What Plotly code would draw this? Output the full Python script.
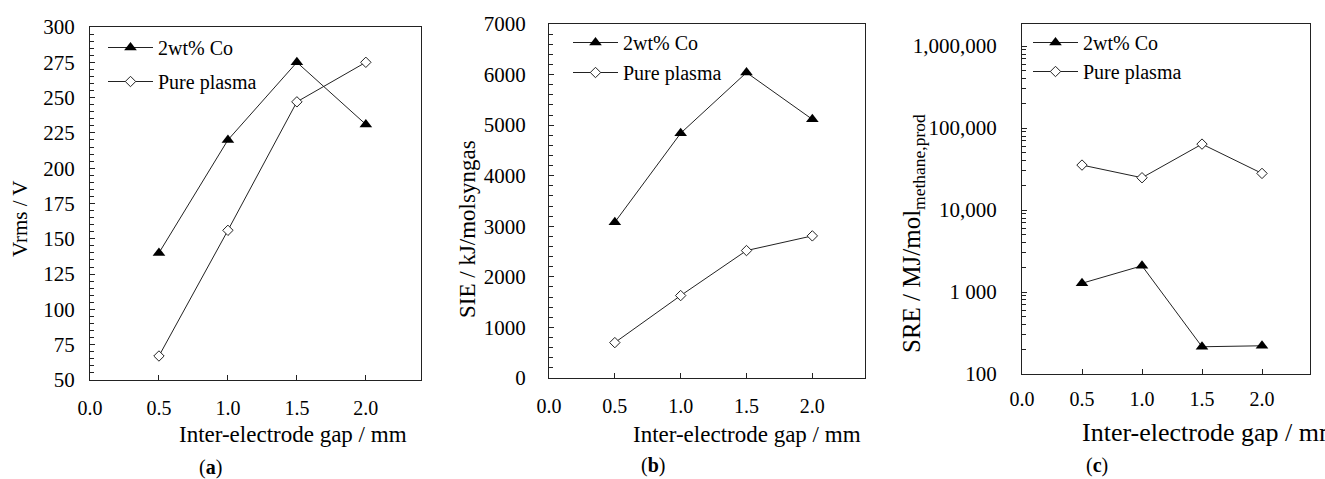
import plotly.graph_objects as go

W, H = 1325, 479

gap = [0.5, 1.0, 1.5, 2.0]
vrms_co = [140, 220, 275, 231]
vrms_pure = [67, 156, 247, 275]
sie_co = [3080, 4840, 6040, 5115]
sie_pure = [700, 1630, 2520, 2810]
sre_co = [1280, 2090, 215, 221]
sre_pure = [35400, 24800, 63800, 28000]

series_names = ["2wt% Co", "Pure plasma"]
x_ticks = [0.0, 0.5, 1.0, 1.5, 2.0]
x_ticktext = ["0.0", "0.5", "1.0", "1.5", "2.0"]
sre_ticks = [100, 1000, 10000, 100000, 1000000]
sre_ticktext = ["100", "1 000", "10,000", "100,000", "1,000,000"]

FONT = "Liberation Serif, Times New Roman, serif"
LC = "#222222"


def px(x):
    return x / W


def py(y):
    return 1 - y / H


fig = go.Figure()

panels = [
    (vrms_co, vrms_pure, "x", "y", "legend"),
    (sie_co, sie_pure, "x2", "y2", "legend2"),
    (sre_co, sre_pure, "x3", "y3", "legend3"),
]
for co, pure, xa, ya, lg in panels:
    fig.add_trace(go.Scatter(
        x=gap, y=co, name=series_names[0], mode="lines+markers",
        line=dict(color=LC, width=1),
        marker=dict(symbol="triangle-up", size=11, color="black"),
        xaxis=xa, yaxis=ya, legend=lg, legendgroup=lg + "a"))
    fig.add_trace(go.Scatter(
        x=gap, y=pure, name=series_names[1], mode="lines+markers",
        line=dict(color=LC, width=1),
        marker=dict(symbol="diamond", size=8, color="white",
                    line=dict(color=LC, width=1)),
        xaxis=xa, yaxis=ya, legend=lg, legendgroup=lg + "b"))

xcommon = dict(range=[0, 2.4], tickvals=x_ticks, ticktext=x_ticktext,
               showline=True, mirror=True, linecolor=LC, linewidth=1,
               ticks="inside", ticklen=5, tickcolor=LC, showgrid=False,
               zeroline=False, automargin=False,
               tickfont=dict(family=FONT, size=20, color="black"))
ycommon = dict(showline=True, mirror=True, linecolor=LC, linewidth=1,
               ticks="inside", ticklen=5, tickcolor=LC, showgrid=False,
               zeroline=False, automargin=False,
               tickfont=dict(family=FONT, size=21, color="black"))

minor_log = [k * 10 ** e for e in range(2, 7) for k in range(2, 10)]

fig.update_layout(
    width=W, height=H,
    margin=dict(l=0, r=0, t=0, b=0, autoexpand=False),
    paper_bgcolor="white", plot_bgcolor="white",
    font=dict(family=FONT, size=20, color="black"),
    xaxis=dict(domain=[px(90), px(421)], anchor="y", ticklabelstandoff=10, **xcommon),
    yaxis=dict(domain=[py(380), py(27)], anchor="x", range=[50, 300], dtick=25,
               ticklabelstandoff=10,
               minor=dict(ticks="inside", ticklen=4, dtick=5, tickcolor=LC),
               **ycommon),
    xaxis2=dict(domain=[px(549), px(865)], anchor="y2", ticklabelstandoff=10, **xcommon),
    yaxis2=dict(domain=[py(378), py(24)], anchor="x2", range=[0, 7000], dtick=1000,
                ticklabelstandoff=18,
                minor=dict(ticks="inside", ticklen=4, dtick=200, tickcolor=LC),
                **ycommon),
    xaxis3=dict(domain=[px(1022), px(1310)], anchor="y3", ticklabelstandoff=7, **xcommon),
    yaxis3=dict(domain=[py(374), py(24)], anchor="x3", type="log", range=[2, 6.27],
                tickvals=sre_ticks, ticktext=sre_ticktext,
                ticklabelstandoff=20,
                minor=dict(ticks="inside", ticklen=4, tickvals=minor_log, tickcolor=LC),
                **ycommon),
    showlegend=True,
)

legcommon = dict(bgcolor="rgba(0,0,0,0)", borderwidth=0, traceorder="grouped",
                 font=dict(family=FONT, size=20, color="black"),
                 xanchor="left", yanchor="top", itemwidth=45)
fig.update_layout(
    legend=dict(x=px(103), y=py(28), tracegroupgap=5, **legcommon),
    legend2=dict(x=px(568), y=py(23), tracegroupgap=1, **legcommon),
    legend3=dict(x=px(1028), y=py(23), tracegroupgap=0, **legcommon),
)

annots = [
    dict(text="Vrms / V", x=px(20), y=py(219), textangle=-90, size=21),
    dict(text="SIE / kJ/molsyngas", x=px(468), y=py(229), textangle=-90, size=23),
    dict(text="SRE / MJ/mol<sub>methane,prod</sub>", x=px(913), y=py(234),
         textangle=-90, size=25),
    dict(text="Inter-electrode gap / mm", x=px(293), y=py(434), textangle=0, size=23),
    dict(text="Inter-electrode gap / mm", x=px(747), y=py(434), textangle=0, size=23),
    dict(text="(<b>a</b>)", x=px(210), y=py(467), textangle=0, size=20),
    dict(text="(<b>b</b>)", x=px(653), y=py(465), textangle=0, size=20),
    dict(text="(<b>c</b>)", x=px(1097), y=py(465), textangle=0, size=20),
]
for a in annots:
    fig.add_annotation(text=a["text"], x=a["x"], y=a["y"], xref="paper", yref="paper",
                       xanchor="center", yanchor="middle", showarrow=False,
                       textangle=a["textangle"],
                       font=dict(family=FONT, size=a["size"], color="black"))
fig.add_annotation(text="Inter-electrode gap / mm", x=px(1080), y=py(432),
                   xref="paper", yref="paper", xanchor="left", yanchor="middle",
                   showarrow=False,
                   font=dict(family=FONT, size=26, color="black"))

fig.write_html(
    "out.html",
    config={"displayModeBar": False},
    post_script="document.body.style.margin='0';document.body.style.overflow='hidden';",
)
